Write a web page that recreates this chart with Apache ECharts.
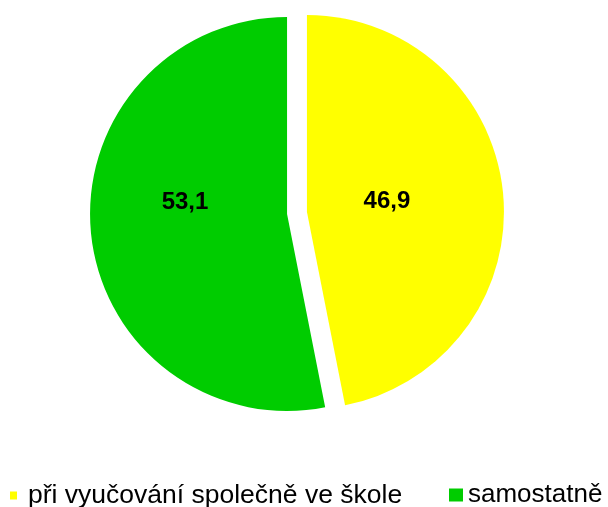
<!DOCTYPE html>
<html>
<head>
<meta charset="utf-8">
<script src="https://cdn.jsdelivr.net/npm/echarts@6/dist/echarts.min.js"></script>
<style>
  html, body { margin: 0; padding: 0; background: #fff; }
  #main { width: 608px; height: 507px; }
</style>
</head>
<body>
<div id="main"></div>
<script>
// data
var categories = ['při vyučování společně ve škole', 'samostatně'];
var values = [46.9, 53.1];
var colors = ['#ffff00', '#00cc00'];

// label nudges so both numbers sit on the same line like in the original
var labelShift = [[-21, -1], [-1, -21]];

var pieData = categories.map(function (name, i) {
  return { name: name, value: values[i], selected: true, itemStyle: { color: colors[i] } };
});

var chart = echarts.init(document.getElementById('main'));
chart.setOption({
  animation: false,
  backgroundColor: '#fff',
  legend: [
    {
      data: [categories[0]],
      left: 10,
      top: 482,
      padding: 0,
      icon: 'rect',
      itemWidth: 7,
      itemHeight: 8,
      selectedMode: false,
      textStyle: { fontFamily: 'Liberation Sans', fontSize: 26.5, color: '#000', padding: [0, 0, 0, 6] }
    },
    {
      data: [categories[1]],
      left: 449,
      top: 482,
      padding: 0,
      icon: 'rect',
      itemWidth: 14,
      itemHeight: 13,
      selectedMode: false,
      textStyle: { fontFamily: 'Liberation Sans', fontSize: 26, color: '#000' }
    }
  ],
  series: [{
    type: 'pie',
    center: [297, 213],
    radius: 197,
    startAngle: 90,
    clockwise: true,
    selectedMode: 'multiple',
    selectedOffset: 10,
    silent: true,
    emphasis: { disabled: true },
    select: { itemStyle: { borderWidth: 0 } },
    label: {
      show: true,
      position: 'inside',
      fontFamily: 'Liberation Sans',
      fontSize: 24,
      fontWeight: 'bold',
      color: '#000',
      formatter: function (p) { return String(p.value).replace('.', ','); }
    },
    labelLine: { show: false },
    labelLayout: function (p) {
      var s = labelShift[p.dataIndex];
      return { dx: s[0], dy: s[1] };
    },
    data: pieData
  }]
});
</script>
</body>
</html>
